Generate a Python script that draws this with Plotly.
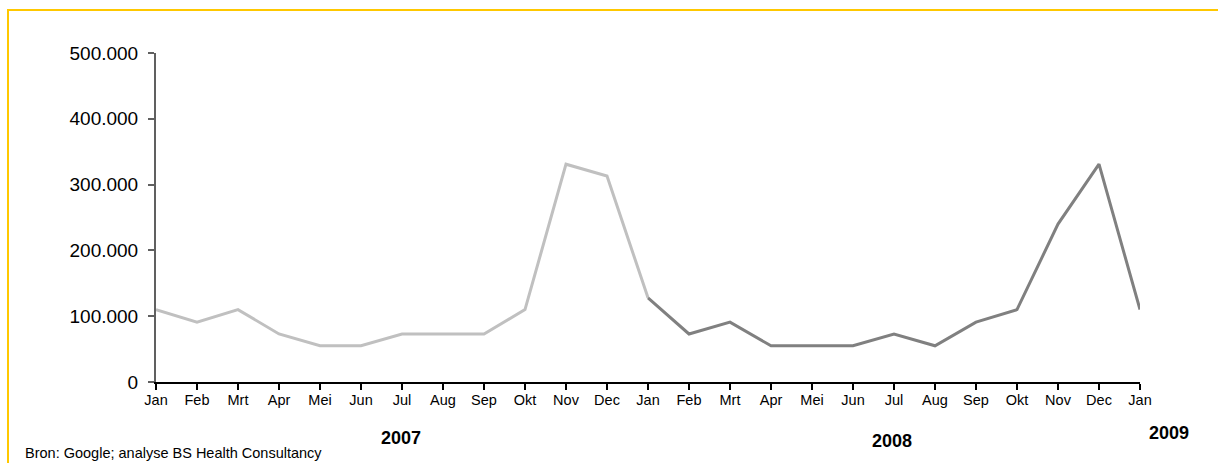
import plotly.graph_objects as go

# ---- data ----
month_labels = ["Jan", "Feb", "Mrt", "Apr", "Mei", "Jun", "Jul", "Aug", "Sep", "Okt", "Nov", "Dec",
                "Jan", "Feb", "Mrt", "Apr", "Mei", "Jun", "Jul", "Aug", "Sep", "Okt", "Nov", "Dec", "Jan"]
period1_idx = list(range(0, 13))   # Jan 2007 .. Jan 2008
period1_vals = [110000, 91000, 110000, 73000, 55000, 55000, 73000, 73000, 73000, 110000, 331000, 313000, 128000]
period2_idx = list(range(12, 25))  # Jan 2008 .. Jan 2009
period2_vals = [128000, 73000, 91000, 55000, 55000, 55000, 73000, 55000, 91000, 110000, 240000, 331000, 110000]
year_labels = ["2007", "2008", "2009"]
y_ticks = [0, 100000, 200000, 300000, 400000, 500000]
source_text = "Bron: Google; analyse BS Health Consultancy"

# ---- layout geometry (pixels) ----
W, H = 1218, 463
L, R, T, B = 156, 78, 53, 81
PW, PH = W - L - R, H - T - B

def px_x(p):
    return (p - L) / PW

def px_y(p):
    return (H - B - p) / PH

FONT = "Liberation Sans, Arial, sans-serif"

fig = go.Figure()
fig.add_trace(go.Scatter(x=period1_idx, y=period1_vals, mode="lines",
                         line=dict(color="#C0C0C0", width=3), showlegend=False, hoverinfo="skip"))
fig.add_trace(go.Scatter(x=period2_idx, y=period2_vals, mode="lines",
                         line=dict(color="#808080", width=3), showlegend=False, hoverinfo="skip"))

fig.update_layout(
    width=W, height=H,
    margin=dict(l=L, r=R, t=T, b=B, pad=0),
    paper_bgcolor="white", plot_bgcolor="white",
    separators=",.",
    font=dict(family=FONT, color="#000000"),
    xaxis=dict(range=[0, 24], tickmode="array", tickvals=list(range(len(month_labels))),
               ticktext=month_labels, showgrid=False, zeroline=False,
               showline=True, linecolor="#000000", linewidth=1.5,
               ticks="outside", ticklen=6, tickcolor="#000000", tickwidth=1.5,
               ticklabelstandoff=-2,
               tickfont=dict(size=14.5, family=FONT, color="#000000"), automargin=False),
    yaxis=dict(range=[0, 500000], tickmode="array", tickvals=y_ticks, tickformat=",.0f",
               showgrid=False, zeroline=False,
               showline=True, linecolor="#606060", linewidth=2,
               ticks="outside", ticklen=6, tickcolor="#606060", tickwidth=1.5,
               ticklabelstandoff=6,
               tickfont=dict(size=19, family=FONT, color="#000000"), automargin=False),
)

# yellow frame (extends beyond the visible window on right and bottom)
fig.add_shape(type="rect", xref="paper", yref="paper",
              x0=px_x(8), y0=px_y(10), x1=px_x(1240), y1=px_y(490),
              line=dict(color="#FFC800", width=2), fillcolor="rgba(0,0,0,0)", layer="below")

year_pos = [(401, 438), (892, 441), (1169, 433)]
for lbl, (xp, yp) in zip(year_labels, year_pos):
    fig.add_annotation(text="<b>" + lbl + "</b>", xref="paper", yref="paper",
                       x=px_x(xp), y=px_y(yp), xanchor="center", yanchor="middle",
                       showarrow=False, font=dict(size=18, family=FONT, color="#000000"))

fig.add_annotation(text=source_text, xref="paper", yref="paper",
                   x=px_x(23), y=px_y(453), xanchor="left", yanchor="middle",
                   showarrow=False, font=dict(size=14.5, family=FONT, color="#000000"))

fig.write_html("out.html")
